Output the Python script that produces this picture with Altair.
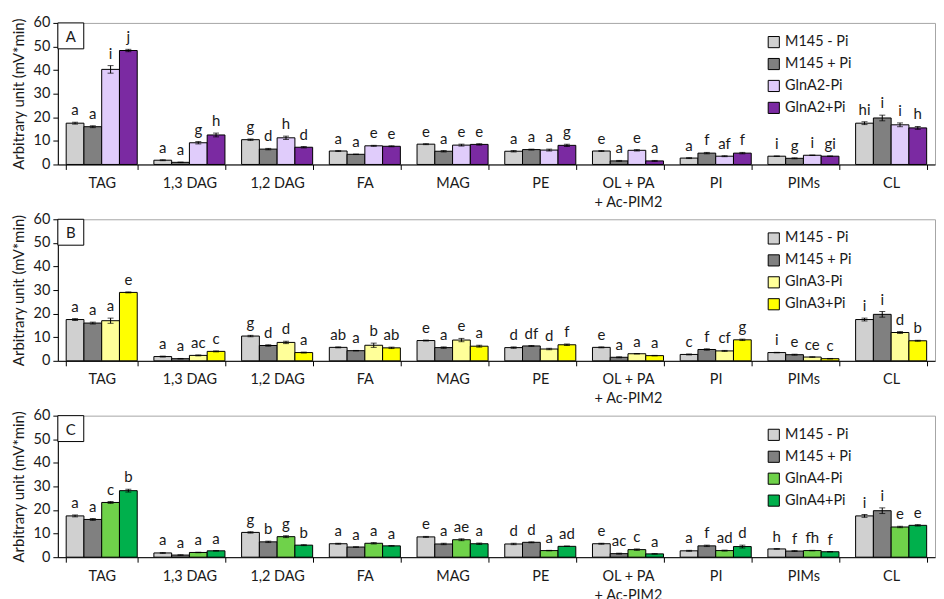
import altair as alt
import pandas as pd

categories = ["TAG", "1,3 DAG", "1,2 DAG", "FA", "MAG", "PE",
              "OL + PA + Ac-PIM2", "PI", "PIMs", "CL"]

m145_minus = [17.5, 1.8, 10.5, 5.7, 8.6, 5.6, 5.7, 2.7, 3.5, 17.5]
m145_minus_err = [0.4, 0.2, 0.3, 0.2, 0.2, 0.3, 0.2, 0.2, 0.1, 0.6]
m145_plus = [16.0, 0.9, 6.5, 4.3, 5.6, 6.3, 1.5, 4.8, 2.6, 19.7]
m145_plus_err = [0.4, 0.1, 0.3, 0.1, 0.3, 0.2, 0.2, 0.3, 0.2, 1.2]

glna2_minus = [40.3, 9.2, 11.3, 7.9, 8.2, 6.1, 6.0, 3.5, 3.9, 16.8]
glna2_minus_err = [1.6, 0.5, 0.7, 0.2, 0.4, 0.4, 0.3, 0.2, 0.1, 0.8]
glna2_plus = [48.3, 12.5, 7.3, 7.7, 8.5, 8.1, 1.5, 4.8, 3.5, 15.5]
glna2_plus_err = [0.5, 0.8, 0.3, 0.2, 0.3, 0.5, 0.2, 0.3, 0.1, 0.6]

glna3_minus = [17.0, 2.3, 7.8, 6.6, 8.8, 5.0, 3.0, 4.2, 1.6, 12.0]
glna3_minus_err = [1.1, 0.2, 0.5, 0.9, 0.7, 0.3, 0.1, 0.2, 0.1, 0.4]
glna3_plus = [29.0, 4.0, 3.5, 5.5, 6.2, 6.8, 2.2, 8.9, 0.9, 8.5]
glna3_plus_err = [0.2, 0.2, 0.2, 0.3, 0.4, 0.3, 0.1, 0.3, 0.1, 0.2]

glna4_minus = [23.2, 2.0, 8.7, 5.9, 7.4, 2.8, 3.2, 2.8, 2.8, 12.8]
glna4_minus_err = [0.4, 0.1, 0.4, 0.3, 0.4, 0.1, 0.3, 0.2, 0.1, 0.3]
glna4_plus = [28.2, 2.7, 5.1, 4.8, 5.7, 4.6, 1.4, 4.5, 2.3, 13.5]
glna4_plus_err = [0.6, 0.1, 0.2, 0.1, 0.3, 0.1, 0.1, 0.6, 0.1, 0.3]

letters_A = [["a", "a", "i", "j"], ["a", "a", "g", "h"], ["g", "d", "h", "d"],
             ["a", "a", "e", "e"], ["e", "a", "e", "e"], ["a", "a", "a", "g"],
             ["e", "a", "e", "a"], ["a", "f", "af", "f"], ["i", "g", "i", "gi"],
             ["hi", "i", "i", "h"]]
letters_B = [["a", "a", "a", "e"], ["a", "a", "ac", "c"], ["g", "d", "d", "a"],
             ["ab", "a", "b", "ab"], ["e", "a", "e", "a"], ["d", "df", "d", "f"],
             ["e", "a", "a", "a"], ["c", "f", "cf", "g"], ["i", "e", "ce", "c"],
             ["i", "i", "d", "b"]]
letters_C = [["a", "a", "c", "b"], ["a", "a", "a", "a"], ["g", "b", "g", "b"],
             ["a", "a", "a", "a"], ["e", "a", "ae", "a"], ["d", "d", "a", "ad"],
             ["e", "ac", "c", "a"], ["a", "f", "ad", "d"], ["h", "f", "fh", "f"],
             ["i", "i", "e", "e"]]

y_ticks = [0, 10, 20, 30, 40, 50, 60]

series_common = ["M145 - Pi", "M145 + Pi"]
colors_common = ["#d0d0d0", "#808080"]

panels = [
    ("A", ["GlnA2-Pi", "GlnA2+Pi"], [glna2_minus, glna2_plus],
     [glna2_minus_err, glna2_plus_err], letters_A, ["#e0ccfb", "#7b2aa2"]),
    ("B", ["GlnA3-Pi", "GlnA3+Pi"], [glna3_minus, glna3_plus],
     [glna3_minus_err, glna3_plus_err], letters_B, ["#ffff99", "#ffff00"]),
    ("C", ["GlnA4-Pi", "GlnA4+Pi"], [glna4_minus, glna4_plus],
     [glna4_minus_err, glna4_plus_err], letters_C, ["#6fd24a", "#00b04c"]),
]

FONT = "Lato"
W = 880
H = 142
TXT = "#1a1a1a"

label_expr = ("datum.label == 'OL + PA + Ac-PIM2' ? ['OL + PA', '+ Ac-PIM2'] : datum.label")


def y_enc(field):
    return alt.Y(field, title="Arbitrary unit (mV*min)",
                 scale=alt.Scale(domain=[0, 60], nice=False),
                 axis=alt.Axis(values=y_ticks, grid=False, labelOverlap=False,
                               tickSize=5, labelFontSize=14.5, labelFont=FONT,
                               labelColor=TXT, titleFont=FONT, titleFontSize=15,
                               titleFontWeight="normal", titleColor=TXT,
                               domainColor="#000000", tickColor="#000000",
                               labelPadding=3, titlePadding=7))


def x_enc():
    return alt.X("cat:N", sort=categories, title=None,
                 scale=alt.Scale(paddingInner=0.19, paddingOuter=0.095),
                 axis=alt.Axis(labelAngle=0, labelExpr=label_expr, tickBand="extent",
                               labelFontSize=14.5, labelFont=FONT, labelColor=TXT,
                               labelPadding=7, labelLineHeight=19, tickSize=5,
                               domainColor="#000000", tickColor="#000000"))


def make_panel(name, extra_series, extra_vals, extra_errs, letters, extra_colors):
    series = series_common + extra_series
    vals = [m145_minus, m145_plus] + extra_vals
    errs = [m145_minus_err, m145_plus_err] + extra_errs
    rows = []
    for si, s in enumerate(series):
        for ci, c in enumerate(categories):
            v = vals[si][ci]
            e = errs[si][ci]
            rows.append({"cat": c, "series": s, "slot": si, "value": v,
                         "lo": v - e, "hi": v + e, "letter": letters[ci][si]})
    df = pd.DataFrame(rows)
    base = alt.Chart(df)

    xo = alt.XOffset("slot:O", scale=alt.Scale(domain=[0, 1, 2, 3],
                                               paddingInner=0, paddingOuter=0))

    bars = base.mark_bar(stroke="#000000", strokeWidth=1).encode(
        x=x_enc(), xOffset=xo, y=y_enc("value:Q"),
        color=alt.Color("series:N", sort=series,
                        scale=alt.Scale(domain=series, range=colors_common + extra_colors),
                        legend=alt.Legend(orient="none", legendX=711, legendY=12,
                                          title=None, symbolType="square",
                                          symbolSize=125, symbolStrokeColor="#000000",
                                          symbolStrokeWidth=1, labelFont=FONT,
                                          labelFontSize=14.5, labelColor=TXT,
                                          rowPadding=6, labelOffset=4, padding=0)),
    )
    rules = base.mark_rule(color="#000000", strokeWidth=1).encode(
        x=x_enc(), xOffset=xo, y=y_enc("lo:Q"), y2="hi:Q")
    cap_lo = base.mark_tick(color="#000000", size=6, thickness=1).encode(
        x=x_enc(), xOffset=xo, y=y_enc("lo:Q"))
    cap_hi = base.mark_tick(color="#000000", size=6, thickness=1).encode(
        x=x_enc(), xOffset=xo, y=y_enc("hi:Q"))
    text = base.mark_text(baseline="bottom", dy=-4, font=FONT, fontSize=15,
                          color=TXT).encode(
        x=x_enc(), xOffset=xo, y=y_enc("hi:Q"), text="letter:N")

    lab_df = alt.Data(values=[{"p": name}])
    box = alt.Chart(lab_df).mark_rect(fill="white", stroke="#000000", strokeWidth=1).encode(
        x=alt.value(0), x2=alt.value(26), y=alt.value(0), y2=alt.value(26))
    box_text = alt.Chart(lab_df).mark_text(font=FONT, fontSize=15, color=TXT).encode(
        x=alt.value(13), y=alt.value(14), text="p:N")

    return alt.layer(bars, rules, cap_lo, cap_hi, text, box, box_text).properties(
        width=W, height=H)


charts = [make_panel(*p) for p in panels]

chart = alt.vconcat(*charts, spacing=55, bounds="flush").resolve_scale(
    color="independent").configure_view(stroke="#a6a6a6", strokeWidth=1).configure_axisY(
    labelOverlap=False).properties(
    padding={"left": 2, "top": 5, "right": 0, "bottom": 0})

chart.save("out.html", embed_options={"renderer": "svg", "actions": False})
